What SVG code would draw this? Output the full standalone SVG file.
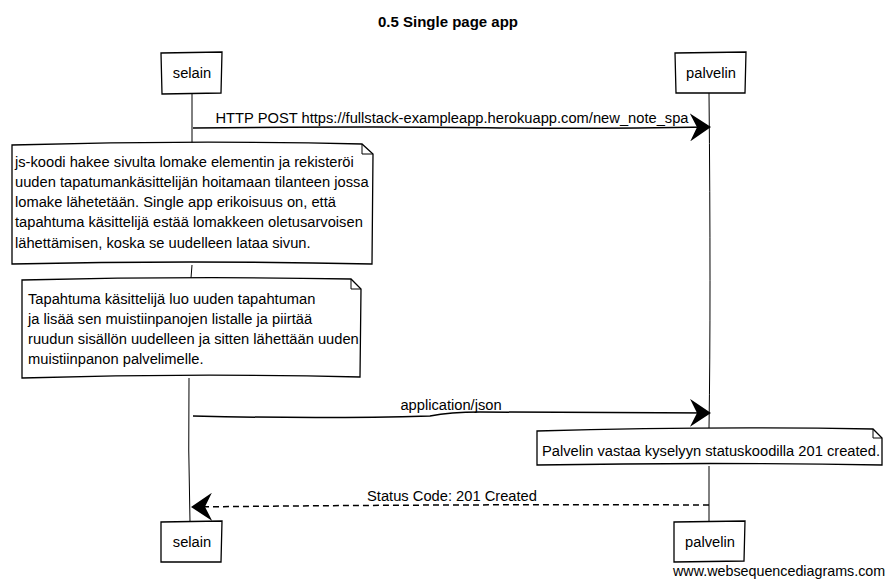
<svg xmlns="http://www.w3.org/2000/svg" width="894" height="586" viewBox="0 0 894 586">
<defs>
<style>
text{font-family:"Liberation Sans",Arial,sans-serif;font-size:14.7px;fill:#000}
.title{font-weight:bold;font-size:15px}
.box{fill:#fff;stroke:#000;stroke-width:1.3}
.life{fill:none;stroke:#000;stroke-width:1}
.msg{fill:none;stroke:#000;stroke-width:1.5}
.dash{fill:none;stroke:#000;stroke-width:1.5;stroke-dasharray:6,4}
.note{fill:#fff;stroke:#000;stroke-width:1.3}
.fold{fill:none;stroke:#000;stroke-width:1}
.small{font-size:14.3px}
</style>
<marker id="ah" markerWidth="22" markerHeight="28" refX="20" refY="14" orient="auto" markerUnits="userSpaceOnUse">
<path d="M0,0 L21,14 L0,28 L7,14 z" fill="#000"/>
</marker>
</defs>
<rect width="894" height="586" fill="#fff"/>
<text class="title" x="448" y="27" text-anchor="middle">0.5 Single page app</text>

<g id="lifelines">
<path class="life" d="M192,93 L192,143 M192,265 L191,278 M189,378 Q188,450 190,522"/>
<path class="life" d="M709,93 Q711,300 709,428 M709,466 L709,522"/>
</g>

<g id="selain-top">
<path class="box" d="M161,53 L222,52 L221,93 L162,94 Z"/>
<text x="192" y="78" text-anchor="middle">selain</text>
</g>
<g id="palvelin-top">
<path class="box" d="M675,53 L746,52 L745,93 L676,93 Z"/>
<text x="711" y="78" text-anchor="middle">palvelin</text>
</g>
<g id="selain-bottom">
<path class="box" d="M161,522 L222,521 L221,562 L161,562 Z"/>
<text x="192" y="547" text-anchor="middle">selain</text>
</g>
<g id="palvelin-bottom">
<path class="box" d="M674,522 L745,521 L744,561 L674,562 Z"/>
<text x="710" y="547" text-anchor="middle">palvelin</text>
</g>

<g id="note1">
<path class="note" d="M12,145 Q190,140 362,144 L373,154 L372,264 Q190,260 12,264 Z"/>
<path class="fold" d="M362,144 L362,154 L373,154"/>
<text x="15" y="167">js-koodi hakee sivulta lomake elementin ja rekisteröi</text>
<text x="15" y="187">uuden tapatumankäsittelijän hoitamaan tilanteen jossa</text>
<text x="15" y="207">lomake lähetetään. Single app erikoisuus on, että</text>
<text x="15" y="227">tapahtuma käsittelijä estää lomakkeen oletusarvoisen</text>
<text x="15" y="248">lähettämisen, koska se uudelleen lataa sivun.</text>
</g>

<g id="note2">
<path class="note" d="M22,280 Q190,276 351,279 L361,289 L360,377 Q190,373 22,378 Z"/>
<path class="fold" d="M351,279 L351,289 L361,289"/>
<text x="28" y="304">Tapahtuma käsittelijä luo uuden tapahtuman</text>
<text x="28" y="324">ja lisää sen muistiinpanojen listalle ja piirtää</text>
<text x="28" y="344">ruudun sisällön uudelleen ja sitten lähettään uuden</text>
<text x="28" y="364">muistiinpanon palvelimelle.</text>
</g>

<g id="note3">
<path class="note" d="M537,431 Q710,426 873,429 L882,438 L882,465 Q710,462 537,465 Z"/>
<path class="fold" d="M873,429 L873,438 L882,438"/>
<text x="542" y="456">Palvelin vastaa kyselyyn statuskoodilla 201 created.</text>
</g>

<g id="connectors">
<path class="msg" marker-end="url(#ah)" d="M193,128 Q400,126 500,128 Q600,129 710,127"/>
<text x="452" y="123" text-anchor="middle">HTTP POST https://fullstack-exampleapp.herokuapp.com/new_note_spa</text>
<path class="msg" marker-end="url(#ah)" d="M193,416 Q320,419 430,416 Q450,412 480,412 L710,413"/>
<text x="451" y="410" text-anchor="middle">application/json</text>
<path class="dash" marker-end="url(#ah)" d="M709,505 Q450,504 192,507"/>
<text x="452" y="501" text-anchor="middle">Status Code: 201 Created</text>
</g>

<text class="small" x="673" y="576">www.websequencediagrams.com</text>
</svg>
